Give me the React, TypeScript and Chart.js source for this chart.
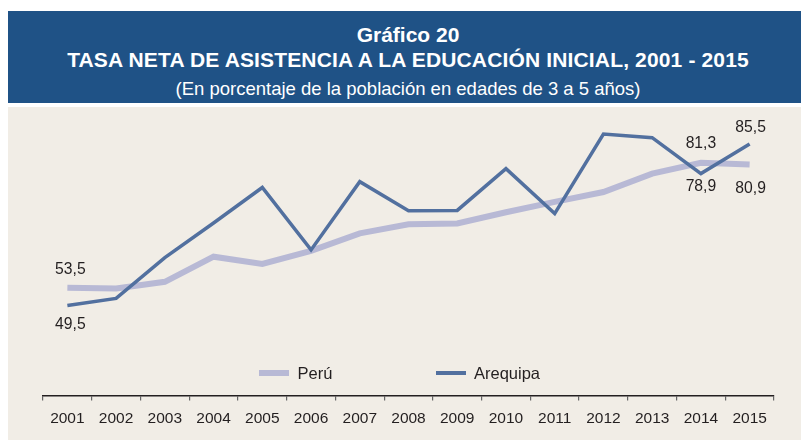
import React, { useEffect, useRef } from "react";
import { Chart, registerables } from "chart.js";

Chart.register(...registerables);

const years = ["2001", "2002", "2003", "2004", "2005", "2006", "2007", "2008", "2009", "2010", "2011", "2012", "2013", "2014", "2015"];
const peru = [53.5, 53.3, 54.8, 60.4, 58.8, 61.7, 65.6, 67.6, 67.8, 70.3, 72.6, 74.8, 78.9, 81.3, 80.9];
const arequipa = [49.5, 51.1, 60.2, 67.9, 75.8, 61.9, 77.1, 70.6, 70.7, 80.0, 70.0, 87.7, 86.9, 78.9, 85.5];

const seriesNames = ["Perú", "Arequipa"];
const titleLine1 = "Gráfico 20";
const titleLine2 = "TASA NETA DE ASISTENCIA A LA EDUCACIÓN INICIAL, 2001 - 2015";
const subtitle = "(En porcentaje de la población en edades de 3 a 5 años)";

// Value labels: which series (0 = Perú, 1 = Arequipa) and which year index
const labelSeries = [0, 1, 0, 1, 1, 0];
const labelIndex = [0, 0, 13, 13, 14, 14];
// vertical offsets of the label centre from the point (px)
const labelDy = [-18, 19, -19, 13, -16, 24];
const labelDx = [3, 3, 0, 0, 1, 1];

const PERU_COLOR = "#b8b9d5";
const AREQ_COLOR = "#52709f";
const TEXT_COLOR = "#231f20";
const FONT = "'Liberation Sans', Arial, Helvetica, sans-serif";

const fmt = (v: number) => v.toFixed(1).replace(".", ",");

const valueLabelPlugin = {
  id: "valueLabels",
  afterDatasetsDraw(chart: any) {
    const ctx = chart.ctx;
    ctx.save();
    ctx.font = `15.7px ${FONT}`;
    ctx.fillStyle = TEXT_COLOR;
    ctx.textAlign = "center";
    ctx.textBaseline = "middle";
    for (let k = 0; k < labelSeries.length; k++) {
      const dsIdx = labelSeries[k] === 0 ? 0 : 1;
      const meta = chart.getDatasetMeta(dsIdx);
      const el = meta.data[labelIndex[k]];
      const value = chart.data.datasets[dsIdx].data[labelIndex[k]] as number;
      ctx.fillText(fmt(value), el.x + labelDx[k], el.y + labelDy[k]);
    }
    ctx.restore();
  },
};

function LineChart() {
  const ref = useRef<HTMLCanvasElement>(null);
  useEffect(() => {
    if (!ref.current) return;
    const chart = new Chart(ref.current, {
      type: "line",
      data: {
        labels: years,
        datasets: [
          {
            label: seriesNames[0],
            data: peru,
            borderColor: PERU_COLOR,
            backgroundColor: PERU_COLOR,
            borderWidth: 6,
            pointRadius: 0,
            tension: 0,
            order: 2,
          },
          {
            label: seriesNames[1],
            data: arequipa,
            borderColor: AREQ_COLOR,
            backgroundColor: AREQ_COLOR,
            borderWidth: 3.5,
            pointRadius: 0,
            tension: 0,
            borderJoinStyle: "miter",
            order: 1,
          },
        ],
      },
      options: {
        responsive: false,
        animation: false,
        devicePixelRatio: 1,
        layout: { padding: { left: 35, right: 27, top: 19, bottom: 3 } },
        plugins: {
          legend: { display: false },
          tooltip: { enabled: false },
          title: { display: false },
        },
        scales: {
          x: {
            offset: true,
            grid: {
              offset: true,
              drawOnChartArea: false,
              drawTicks: true,
              tickLength: 5,
              color: "#666666",
              lineWidth: 1.2,
            },
            border: { display: true, color: TEXT_COLOR, width: 1.5 },
            ticks: {
              color: TEXT_COLOR,
              font: { family: FONT, size: 15.5 },
              padding: 9,
              maxRotation: 0,
              autoSkip: false,
            },
          },
          y: {
            display: false,
            min: 29.5,
            max: 89.5,
          },
        },
      },
      plugins: [valueLabelPlugin],
    });
    return () => chart.destroy();
  }, []);
  return <canvas ref={ref} width={793} height={333} style={{ display: "block", width: 793, height: 333 }} />;
}

export default function App() {
  const textBase: React.CSSProperties = {
    position: "absolute",
    left: 0,
    width: 800,
    textAlign: "center",
    color: "#ffffff",
    fontFamily: FONT,
    whiteSpace: "nowrap",
    lineHeight: 1,
  };
  return (
    <div
      style={{
        position: "fixed",
        left: 0,
        top: 0,
        width: 801,
        height: 440,
        overflow: "hidden",
        background: "#ffffff",
      }}
    >
      <div style={{ position: "absolute", left: 8, top: 11, width: 800, height: 92, background: "#1f5286" }}>
        <div style={{ ...textBase, top: 13, fontSize: 21, fontWeight: 700 }}>{titleLine1}</div>
        <div style={{ ...textBase, top: 38, fontSize: 21, fontWeight: 700, letterSpacing: 0.15 }}>{titleLine2}</div>
        <div style={{ ...textBase, top: 68.5, fontSize: 18.5, fontWeight: 400 }}>{subtitle}</div>
      </div>
      <div style={{ position: "absolute", left: 8, top: 107, width: 800, height: 333, background: "#f1ede6" }}>
        <LineChart />
        <div style={{ position: "absolute", left: 251, top: 263, width: 30, height: 6, background: PERU_COLOR }} />
        <div
          style={{
            position: "absolute",
            left: 289.5,
            top: 256,
            fontFamily: FONT,
            fontSize: 16.5,
            lineHeight: "20px",
            color: TEXT_COLOR,
            whiteSpace: "nowrap",
          }}
        >
          {seriesNames[0]}
        </div>
        <div style={{ position: "absolute", left: 428, top: 264, width: 30, height: 4, background: AREQ_COLOR }} />
        <div
          style={{
            position: "absolute",
            left: 466,
            top: 256,
            fontFamily: FONT,
            fontSize: 16.5,
            lineHeight: "20px",
            color: TEXT_COLOR,
            whiteSpace: "nowrap",
          }}
        >
          {seriesNames[1]}
        </div>
      </div>
    </div>
  );
}
